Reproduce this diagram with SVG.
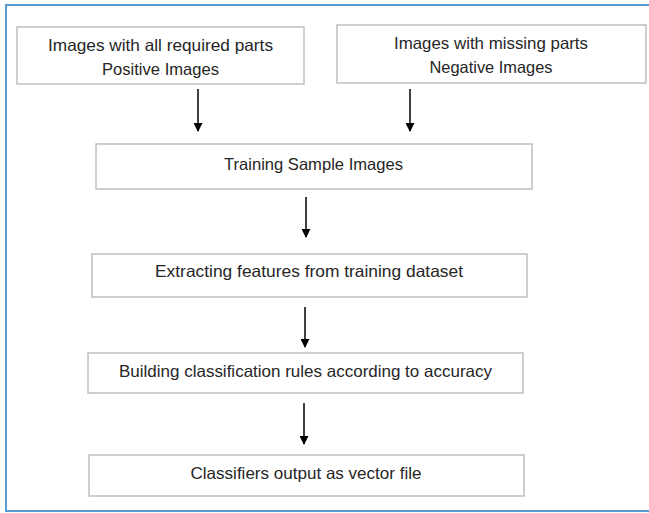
<svg xmlns="http://www.w3.org/2000/svg" width="649" height="513" viewBox="0 0 649 513">
<defs>
<style>
.box{fill:#ffffff;stroke:#bfbfbf;stroke-width:1.5}
.t{font-family:"Liberation Sans",Arial,sans-serif;font-size:16.5px;fill:#262626;text-anchor:middle}
.c{stroke:#000000;stroke-width:1.5;fill:none}
</style>
<marker id="ah" viewBox="0 0 10 10" refX="9" refY="5" markerWidth="9" markerHeight="9" markerUnits="userSpaceOnUse" orient="auto">
<path d="M0,0 L10,5 L0,10 z" fill="#000000"/>
</marker>
</defs>
<rect width="649" height="513" fill="#ffffff"/>
<path d="M660,5 L6,5 L6,511 L660,511" fill="none" stroke="#5b9bd5" stroke-width="2"/>
<g id="connectors">
<line class="c" x1="198" y1="89" x2="198" y2="131" marker-end="url(#ah)"/>
<line class="c" x1="410" y1="89" x2="410" y2="131" marker-end="url(#ah)"/>
<line class="c" x1="306" y1="197" x2="306" y2="237" marker-end="url(#ah)"/>
<line class="c" x1="305" y1="307" x2="305" y2="347" marker-end="url(#ah)"/>
<line class="c" x1="304" y1="403" x2="304" y2="444" marker-end="url(#ah)"/>
</g>
<g id="n1">
<rect class="box" x="17" y="27" width="287" height="57"/>
<text class="t" x="160.5" y="51" textLength="225" lengthAdjust="spacingAndGlyphs">Images with all required parts</text>
<text class="t" x="160.5" y="75" textLength="117" lengthAdjust="spacingAndGlyphs">Positive Images</text>
</g>
<g id="n2">
<rect class="box" x="337" y="25" width="309" height="58"/>
<text class="t" x="491" y="49" textLength="194" lengthAdjust="spacingAndGlyphs">Images with missing parts</text>
<text class="t" x="491" y="73" textLength="123" lengthAdjust="spacingAndGlyphs">Negative Images</text>
</g>
<g id="n3">
<rect class="box" x="96" y="144" width="436" height="45"/>
<text class="t" x="313.5" y="170" textLength="179" lengthAdjust="spacingAndGlyphs">Training Sample Images</text>
</g>
<g id="n4">
<rect class="box" x="92" y="254" width="435" height="43"/>
<text class="t" x="309" y="277" textLength="308" lengthAdjust="spacingAndGlyphs">Extracting features from training dataset</text>
</g>
<g id="n5">
<rect class="box" x="88" y="353" width="435" height="40"/>
<text class="t" x="305.5" y="377" textLength="373" lengthAdjust="spacingAndGlyphs">Building classification rules according to accuracy</text>
</g>
<g id="n6">
<rect class="box" x="89" y="455" width="435" height="41"/>
<text class="t" x="306" y="479" textLength="231" lengthAdjust="spacingAndGlyphs">Classifiers output as vector file</text>
</g>
</svg>
